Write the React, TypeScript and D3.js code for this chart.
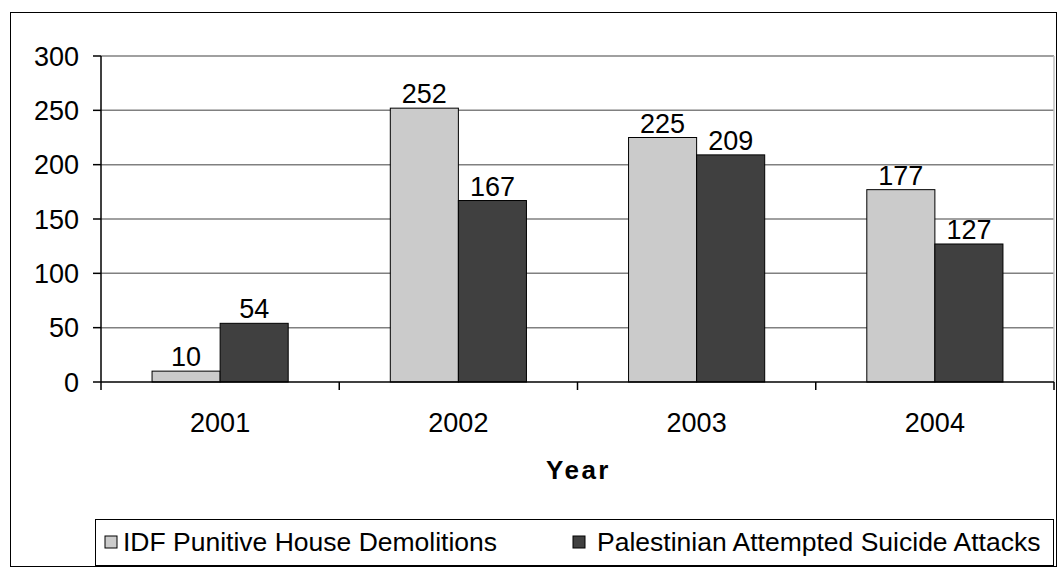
import * as d3 from 'd3';

const years = ['2001', '2002', '2003', '2004'];
const demolitions = [10, 252, 225, 177];
const attacks = [54, 167, 209, 127];
const yTicks = [0, 50, 100, 150, 200, 250, 300];
const seriesNames = ['IDF Punitive House Demolitions', 'Palestinian Attempted Suicide Attacks'];
const seriesColors = ['#cbcbcb', '#404040'];

const W = 1058;
const H = 567;
const plot = { left: 101, right: 1054, top: 56, bottom: 382 };
const font = 'Liberation Sans, Arial, sans-serif';

export default function App() {
  const x = d3.scaleBand<string>().domain(years).range([plot.left, plot.right]);
  const bw = x.bandwidth() / 3.5;
  const xs = d3.scaleBand<number>().domain([0, 1]).range([0, 2 * bw]);
  const y = d3.scaleLinear().domain([0, 300]).range([plot.bottom, plot.top]);
  const series = [demolitions, attacks];

  return (
    <svg width={W} height={H} style={{ position: 'absolute', left: 0, top: 0 }} fontFamily={font}>
      <rect x={0} y={0} width={W} height={H} fill="#fff" />
      <rect x={10.5} y={12.5} width={1046} height={554} fill="none" stroke="#000" strokeWidth={1} />

      {/* grid */}
      {yTicks.filter((t) => t > 0).map((t) => (
        <line key={t} x1={plot.left} x2={plot.right} y1={y(t)} y2={y(t)} stroke="#808080" strokeWidth={1.5} />
      ))}
      <line x1={plot.right} x2={plot.right} y1={plot.top} y2={plot.bottom} stroke="#c0c0c0" strokeWidth={1.5} />

      {/* bars */}
      {years.map((yr, i) => {
        const gx = x(yr)! + (x.bandwidth() - 2 * bw) / 2;
        return series.map((s, si) => (
          <g key={yr + si}>
            <rect
              x={gx + xs(si)!}
              y={y(s[i])}
              width={bw}
              height={plot.bottom - y(s[i])}
              fill={seriesColors[si]}
              stroke="#000"
              strokeWidth={1}
            />
            <text
              x={gx + xs(si)! + bw / 2}
              y={y(s[i]) - 5}
              textAnchor="middle"
              fontSize={27}
              fill="#000"
            >
              {s[i]}
            </text>
          </g>
        ));
      })}

      {/* y axis */}
      <line x1={plot.left} x2={plot.left} y1={plot.top} y2={plot.bottom} stroke="#000" strokeWidth={1.5} />
      {yTicks.map((t) => (
        <g key={t}>
          <line x1={plot.left - 8} x2={plot.left} y1={y(t)} y2={y(t)} stroke="#000" strokeWidth={1.5} />
          <text x={79} y={y(t)} dy="0.36em" textAnchor="end" fontSize={27} fill="#000">
            {t}
          </text>
        </g>
      ))}

      {/* x axis */}
      <line x1={plot.left} x2={plot.right} y1={plot.bottom} y2={plot.bottom} stroke="#000" strokeWidth={1.5} />
      {[...years.map((yr) => x(yr)!), plot.right].map((px, i) => (
        <line key={i} x1={px} x2={px} y1={plot.bottom} y2={plot.bottom + 8} stroke="#000" strokeWidth={1.5} />
      ))}
      {years.map((yr) => (
        <text key={yr} x={x(yr)! + x.bandwidth() / 2} y={432} textAnchor="middle" fontSize={27} fill="#000">
          {yr}
        </text>
      ))}
      <text x={(plot.left + plot.right) / 2 + 1} y={479} textAnchor="middle" fontSize={26} fontWeight="bold" letterSpacing={2.5} fill="#000">
        Year
      </text>

      {/* legend */}
      <rect x={95.5} y={519.5} width={958} height={46} fill="#fff" stroke="#000" strokeWidth={1} />
      {seriesNames.map((name, i) => {
        const lx = i === 0 ? 105 : 573;
        const tx = i === 0 ? 123 : 597;
        return (
          <g key={name}>
            <rect x={lx} y={536} width={12} height={12} fill={seriesColors[i]} stroke="#000" strokeWidth={1} />
            <text x={tx} y={551} fontSize={26.5} fill="#000">
              {name}
            </text>
          </g>
        );
      })}
    </svg>
  );
}
